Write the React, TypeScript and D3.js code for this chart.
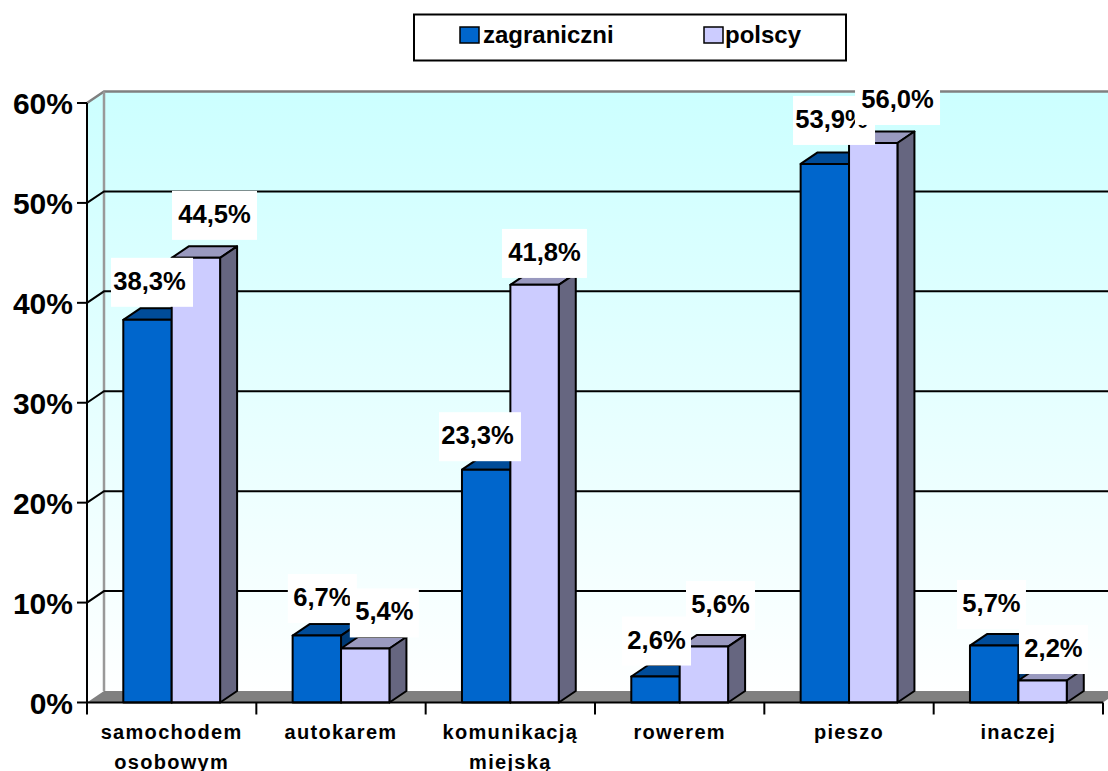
import React from "react";
import * as d3 from "d3";

const categories = [["samochodem", "osobowym"], ["autokarem"], ["komunikacją", "miejską"], ["rowerem"], ["pieszo"], ["inaczej"]];
const seriesNames = ["zagraniczni", "polscy"];
const zagraniczni = [38.3, 6.7, 23.3, 2.6, 53.9, 5.7];
const polscy = [44.5, 5.4, 41.8, 5.6, 56.0, 2.2];
const yTicks = [0, 10, 20, 30, 40, 50, 60];

// label box centre, relative to the top-centre of its bar
const nudgeZagraniczni = [[4.5, -37.5], [5.5, -37], [-6.2, -33], [1, -35.5], [9.2, -43.5], [-2.7, -41]];
const nudgePolscy = [[18.6, -42.5], [19.1, -35.6], [9.9, -31.4], [16.6, -41], [24.3, -42.5], [10.9, -31]];

const W = 1108, H = 771;
const FONT = "'Liberation Sans', Arial, sans-serif";
const DX = 17, DY = 11.5;
const BAR_W = 48.4, BAR_OFF = 36.3;
const C = {
  front: ["#0066CC", "#CCCCFF"],
  top: ["#004C99", "#9999BF"],
  side: ["#003A75", "#666680"],
};

const y = d3.scaleLinear().domain([0, 60]).range([702.5, 103]);
const x = d3.scaleBand<number>().domain(d3.range(categories.length)).range([87, 1103]);
const fmt = (v: number) => v.toFixed(1).replace(".", ",") + "%";
const poly = d3.line();

function Bar({ x0, v, s }: { x0: number; v: number; s: number }) {
  const yt = y(v), yb = y(0), x1 = x0 + BAR_W;
  return (
    <g stroke="#000" strokeWidth={2} strokeLinejoin="round">
      <path fill={C.top[s]} d={poly([[x0, yt], [x0 + DX, yt - DY], [x1 + DX, yt - DY], [x1, yt]])! + "Z"} />
      <path fill={C.side[s]} d={poly([[x1, yt], [x1 + DX, yt - DY], [x1 + DX, yb - DY], [x1, yb]])! + "Z"} />
      <rect x={x0} y={yt} width={BAR_W} height={yb - yt} fill={C.front[s]} />
    </g>
  );
}

function Label({ cx, cy, v, s }: { cx: number; cy: number; v: number; s: number }) {
  const w = v >= 10 ? (s === 0 ? 82 : 85) : 69;
  const shift = v >= 10 && s === 0 ? -2.5 : 0;
  return (
    <g>
      <rect x={cx - w / 2} y={cy - 24.5} width={w} height={49} fill="#fff" />
      <text x={cx + shift} y={cy + 7.5} textAnchor="middle" fontSize={25.6} fontWeight={700} fill="#000">{fmt(v)}</text>
    </g>
  );
}

export default function App() {
  const y0 = y(0), y60 = y(60);
  const xL = x.range()[0], xR = x.range()[1];
  const series = [zagraniczni, polscy];
  const nudges = [nudgeZagraniczni, nudgePolscy];
  return (
    <svg width={W} height={H} viewBox={`0 0 ${W} ${H}`} fontFamily={FONT}
      style={{ position: "fixed", left: 0, top: 0, display: "block", background: "#fff" }}>
      <defs>
        <linearGradient id="wall" gradientUnits="userSpaceOnUse" x1={0} x2={0} y1={y60 - DY} y2={y0}>
          <stop offset="0" stopColor="#CCFFFF" />
          <stop offset="1" stopColor="#FFFFFF" />
        </linearGradient>
      </defs>

      {/* walls */}
      <rect x={xL + DX} y={y60 - DY} width={W} height={y0 - y60} fill="url(#wall)" />
      <path fill="url(#wall)" d={poly([[xL, y60], [xL + DX, y60 - DY], [xL + DX, y0 - DY], [xL, y0]])! + "Z"} />
      {/* floor */}
      <path fill="#808080" d={poly([[xL, y0], [xL + DX, y0 - DY], [xR + DX, y0 - DY], [xR, y0]])! + "Z"} />
      <path fill="none" stroke="#808080" strokeWidth={2.5}
        d={poly([[xL, y60], [xL + DX, y60 - DY], [W + 2, y60 - DY]])!} />
      <line x1={xL + DX} x2={xL + DX} y1={y60 - DY} y2={y0 - DY} stroke="#999" strokeWidth={2.5} />

      {/* grid and y axis */}
      {yTicks.map((t) => (
        <g key={t}>
          {t > 0 && t < 60 && (
            <path fill="none" stroke="#000" strokeWidth={2}
              d={poly([[xL, y(t)], [xL + DX, y(t) - DY], [W + 2, y(t) - DY]])!} />
          )}
          <line x1={77} x2={xL} y1={y(t)} y2={y(t)} stroke="#000" strokeWidth={2} />
          <text x={73} y={y(t) + 11} textAnchor="end" fontSize={30} fontWeight={700} fill="#000">{t}%</text>
        </g>
      ))}
      <line x1={xL} x2={xL} y1={y60} y2={y0} stroke="#000" strokeWidth={2} />

      {/* bars */}
      {categories.map((_, k) => (
        <g key={k}>
          {series.map((vals, s) => (
            <Bar key={s} s={s} v={vals[k]} x0={x(k)! + BAR_OFF + s * BAR_W} />
          ))}
        </g>
      ))}

      {/* x axis */}
      <line x1={xL} x2={xR} y1={y0} y2={y0} stroke="#000" strokeWidth={2} />
      {d3.range(categories.length + 1).map((k) => {
        const tx = xL + k * x.bandwidth();
        return <line key={k} x1={tx} x2={tx} y1={y0} y2={y0 + 12} stroke="#000" strokeWidth={2} />;
      })}
      {categories.map((lines, k) =>
        lines.map((ln, i) => (
          <text key={ln} x={x(k)! + x.bandwidth() / 2} y={739 + i * 30} textAnchor="middle"
            fontSize={20} fontWeight={700} letterSpacing={1.3} fill="#000">{ln}</text>
        ))
      )}

      {/* data labels */}
      {series.map((vals, s) =>
        vals.map((v, k) => (
          <Label key={`${s}-${k}`} v={v} s={s}
            cx={x(k)! + BAR_OFF + s * BAR_W + BAR_W / 2 + nudges[s][k][0]}
            cy={y(v) + nudges[s][k][1]} />
        ))
      )}

      {/* legend */}
      <rect x={414} y={14.5} width={432} height={46} fill="#fff" stroke="#000" strokeWidth={2} />
      {seriesNames.map((n, s) => {
        const lx = s === 0 ? 460 : 704;
        const gap = s === 0 ? 23 : 21;
        return (
          <g key={n}>
            <rect x={lx} y={27} width={19} height={16} fill={C.front[s]} stroke="#000" strokeWidth={1.5} />
            <text x={lx + gap} y={43} fontSize={24} fontWeight={700} fill="#000">{n}</text>
          </g>
        );
      })}
    </svg>
  );
}
